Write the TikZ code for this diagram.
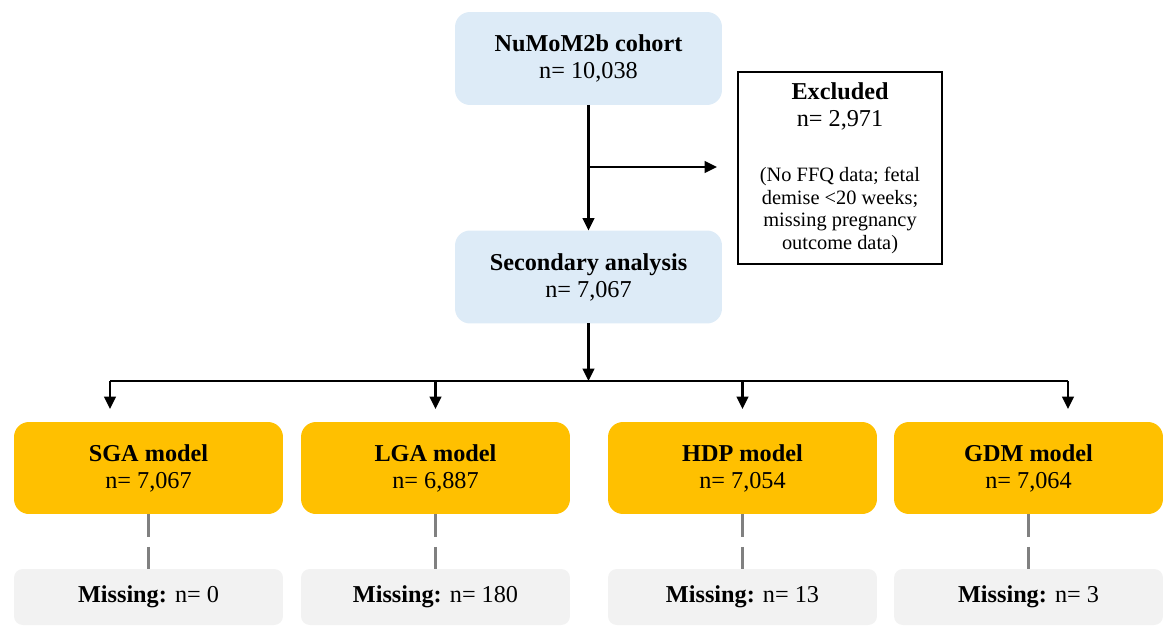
\documentclass[tikz,border=0pt]{standalone}
\usepackage{fontspec}
\setmainfont{Liberation Serif}
\usetikzlibrary{arrows.meta}
\definecolor{lblue}{HTML}{DDEBF7}
\definecolor{gold}{HTML}{FFC000}
\definecolor{lgray}{HTML}{F2F2F2}
\definecolor{dgray}{HTML}{808080}
\tikzset{
  x=0.02cm, y=-0.02cm,
  bluebox/.style={fill=lblue, draw=none, rounded corners=8.5pt, minimum width=5.34cm, minimum height=1.86cm, inner sep=0pt, outer sep=0pt, align=center, font=\fontsize{13.8}{15.4}\selectfont},
  modelbox/.style={fill=gold, draw=none, rounded corners=8.5pt, minimum width=5.38cm, minimum height=1.84cm, inner sep=0pt, outer sep=0pt, align=center, font=\fontsize{13.8}{15.4}\selectfont},
  missbox/.style={fill=lgray, draw=none, rounded corners=5pt, minimum width=5.38cm, minimum height=1.12cm, inner sep=0pt, outer sep=0pt, align=center, font=\fontsize{13.8}{15.4}\selectfont},
  exbox/.style={draw=black, line width=1.1pt, fill=white, minimum width=4.08cm, minimum height=3.84cm, inner sep=0pt, outer sep=0pt},
  txt/.style={align=center, inner sep=0pt},
  arr/.style={line width=1.4pt, -{Triangle[length=7pt,width=6.5pt]}},
  plain/.style={line width=1.4pt},
  dashline/.style={draw=dgray, line width=1.3pt, dash pattern=on 13pt off 5.7pt},
}
\begin{document}
\begin{tikzpicture}
\useasboundingbox (0,0) rectangle (1175,635);
% top boxes
\node[bluebox] (top) at (588.5,58.5) {\textbf{NuMoM2b cohort}\\n= 10,038};
\node[bluebox] (sec) at (588.5,277) {\textbf{Secondary analysis}\\n= 7,067};
\node[exbox] (excl) at (840,168) {};
\node[txt, font=\fontsize{13.8}{15.4}\selectfont] (exT) at (840,106.5) {\textbf{Excluded}\\n= 2,971};
\node[txt, font=\fontsize{11.6}{12.75}\selectfont] (exR) at (840,210.5) {(No FFQ data; fetal\\demise <20 weeks;\\missing pregnancy\\outcome data)};
% models
\node[modelbox] (sga) at (148.5,468) {\textbf{SGA model}\\n= 7,067};
\node[modelbox] (lga) at (435.5,468) {\textbf{LGA model}\\n= 6,887};
\node[modelbox] (hdp) at (742.5,468) {\textbf{HDP model}\\n= 7,054};
\node[modelbox] (gdm) at (1028.5,468) {\textbf{GDM model}\\n= 7,064};
% missing
\node[missbox] (msga) at (148.5,597) {\textbf{Missing:} n= 0};
\node[missbox] (mlga) at (435.5,597) {\textbf{Missing:} n= 180};
\node[missbox] (mhdp) at (742.5,597) {\textbf{Missing:} n= 13};
\node[missbox] (mgdm) at (1028.5,597) {\textbf{Missing:} n= 3};
% connectors
\draw[arr] (top.south) -- (sec.north);
\coordinate (brS) at (588.5,167);
\coordinate (brE) at (717,167);
\draw[arr] (brS) -- (brE);
\coordinate (hub) at (588.5,381);
\draw[arr] (sec.south) -- (hub);
\coordinate (bS) at (110,381);
\coordinate (bL) at (435.5,381);
\coordinate (bH) at (742.5,381);
\coordinate (bG) at (1068,381);
\coordinate (tS) at (110,409);
\coordinate (tL) at (435.5,409);
\coordinate (tH) at (742.5,409);
\coordinate (tG) at (1068,409);
\draw[plain] (bS) -- (bG);
\draw[arr] (bS) -- (tS);
\draw[arr] (bL) -- (tL);
\draw[arr] (bH) -- (tH);
\draw[arr] (bG) -- (tG);
\draw[dashline] (sga.south) -- (msga.north);
\draw[dashline] (lga.south) -- (mlga.north);
\draw[dashline] (hdp.south) -- (mhdp.north);
\draw[dashline] (gdm.south) -- (mgdm.north);
\end{tikzpicture}
\end{document}
